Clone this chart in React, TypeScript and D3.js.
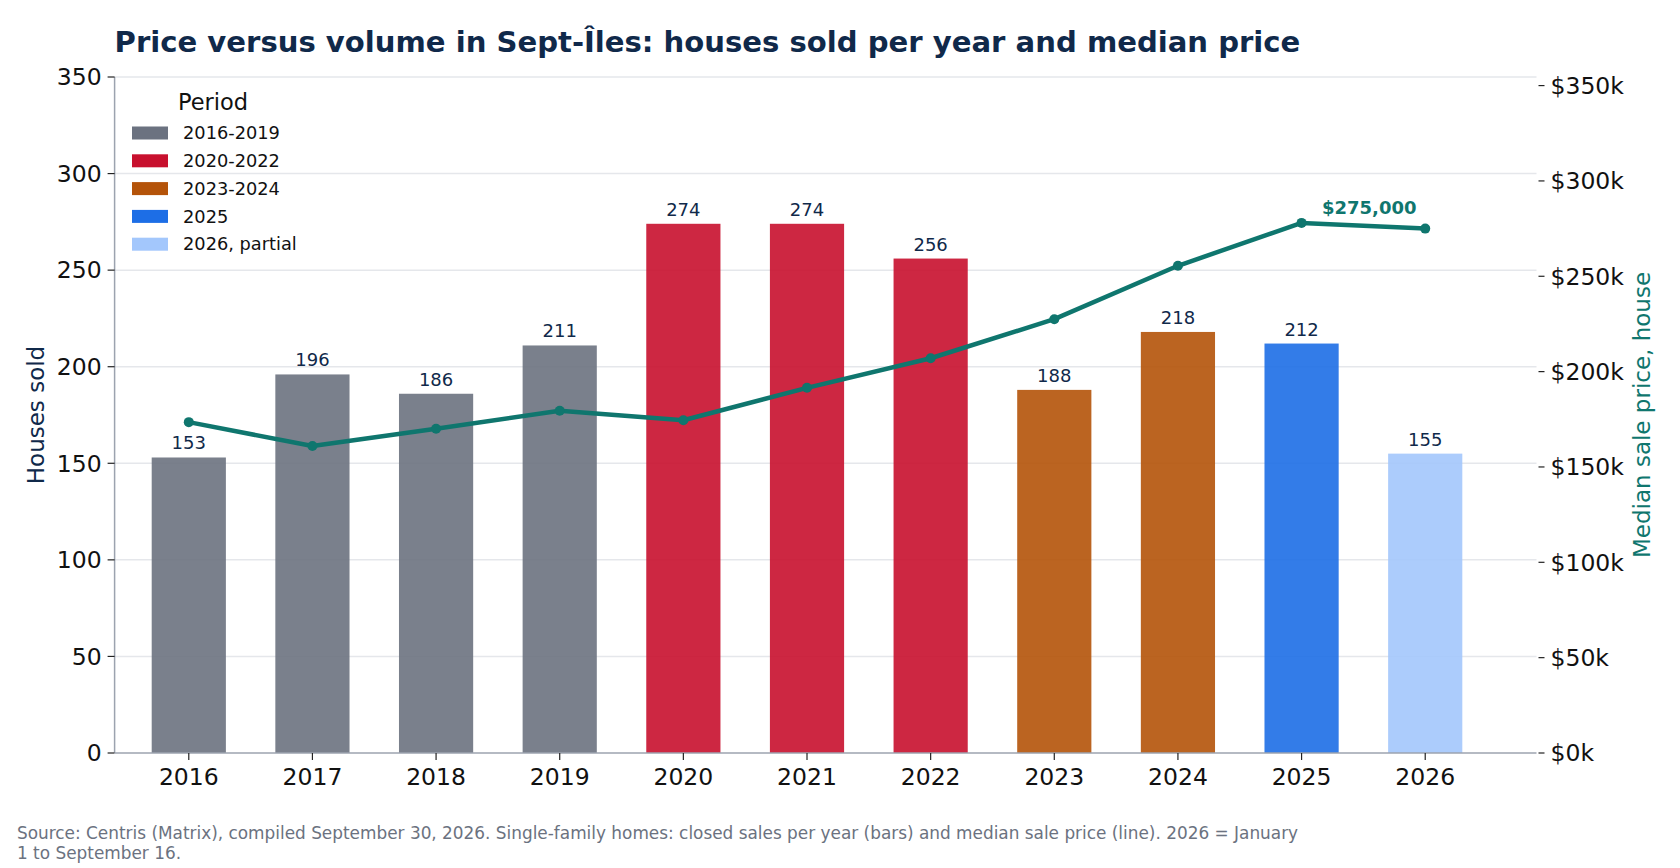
import React from 'react';
import * as d3 from 'd3';

const years = ['2016', '2017', '2018', '2019', '2020', '2021', '2022', '2023', '2024', '2025', '2026'];
const housesSold = [153, 196, 186, 211, 274, 274, 256, 188, 218, 212, 155];
const medianPrice = [173500, 161000, 170000, 179500, 174500, 191500, 207000, 227500, 255500, 278000, 275000];
const yearPeriod = [
  '2016-2019', '2016-2019', '2016-2019', '2016-2019',
  '2020-2022', '2020-2022', '2020-2022',
  '2023-2024', '2023-2024',
  '2025',
  '2026, partial',
];
const periods = ['2016-2019', '2020-2022', '2023-2024', '2025', '2026, partial'];
const periodColors = ['#6b7280', '#c8102e', '#b45309', '#1d6ee6', '#a3c7fc'];
const countTicks = [0, 50, 100, 150, 200, 250, 300, 350];
const priceTicks = [0, 50000, 100000, 150000, 200000, 250000, 300000, 350000];

const W = 1680;
const H = 868;
const FONT = '"DejaVu Sans", sans-serif';
const NAVY = '#10294a';
const TEAL = '#0f766e';

const m = { left: 114.6, right: 1536.5, top: 77, bottom: 753 };

export default function App() {
  const x = d3.scaleLinear().domain([-0.6, 10.9]).range([m.left, m.right]);
  const bandW = x(0.6) - x(0);
  const yL = d3.scaleLinear().domain([0, 350]).range([m.bottom, m.top]);
  const yR = d3.scaleLinear().domain([0, 354500]).range([m.bottom, m.top]);
  const color = d3.scaleOrdinal<string, string>().domain(periods).range(periodColors);

  const line = d3.line<number>()
    .x((_, i) => x(i))
    .y(d => yR(d));

  const last = medianPrice.length - 1;
  const fmtK = (v: number) => `$${v / 1000}k`;
  const fmtFull = d3.format('$,.0f');

  return (
    <svg width={W} height={H} style={{ position: 'absolute', left: 0, top: 0, background: '#fff' }} fontFamily={FONT}>
      <rect width={W} height={H} fill="#fff" />

      <text x={m.left} y={52} fontSize={29.1} fontWeight="bold" fill={NAVY}>
        Price versus volume in Sept-Îles: houses sold per year and median price
      </text>

      {/* grid */}
      {countTicks.filter(t => t > 0).map(t => (
        <line key={t} x1={m.left} x2={m.right} y1={yL(t)} y2={yL(t)} stroke="#e5e7eb" strokeWidth={1.5} />
      ))}

      {/* bars */}
      {housesSold.map((v, i) => (
        <g key={years[i]}>
          <rect
            x={x(i) - bandW / 2}
            y={yL(v)}
            width={bandW}
            height={yL(0) - yL(v)}
            fill={color(yearPeriod[i])}
            fillOpacity={0.9}
          />
          <text x={x(i)} y={yL(v) - 8} textAnchor="middle" fontSize={18} fill={NAVY}>{v}</text>
        </g>
      ))}

      {/* median price line */}
      <path d={line(medianPrice) || ''} fill="none" stroke={TEAL} strokeWidth={4.5} strokeLinejoin="round" />
      {medianPrice.map((v, i) => (
        <circle key={i} cx={x(i)} cy={yR(v)} r={5} fill={TEAL} />
      ))}
      <text x={x(last) - 56} y={yR(medianPrice[last]) - 15} textAnchor="middle" fontSize={18} fontWeight="bold" fill={TEAL}>
        {fmtFull(medianPrice[last])}
      </text>

      {/* left axis */}
      <line x1={m.left} x2={m.left} y1={m.top} y2={m.bottom} stroke="#9ca3af" strokeWidth={1.5} />
      {countTicks.map(t => (
        <g key={t} transform={`translate(${m.left},${yL(t)})`}>
          <line x1={-7} x2={0} stroke="#222" strokeWidth={1.2} />
          <text x={-13} dy="0.35em" textAnchor="end" fontSize={23.5} fill="#111">{t}</text>
        </g>
      ))}
      <text transform={`translate(44,${(m.top + m.bottom) / 2}) rotate(-90)`} textAnchor="middle" fontSize={23} fill={NAVY}>
        Houses sold
      </text>

      {/* right axis */}
      {priceTicks.map(t => (
        <g key={t} transform={`translate(${m.right},${yR(t)})`}>
          <line x1={2} x2={8} stroke="#222" strokeWidth={1.2} />
          <text x={14} dy="0.35em" textAnchor="start" fontSize={23.5} fill="#111">{fmtK(t)}</text>
        </g>
      ))}
      <text transform={`translate(1650,${(m.top + m.bottom) / 2}) rotate(-90)`} textAnchor="middle" fontSize={23} fill={TEAL}>
        Median sale price, house
      </text>

      {/* bottom axis */}
      <line x1={m.left} x2={m.right} y1={m.bottom} y2={m.bottom} stroke="#9ca3af" strokeWidth={1.5} />
      {years.map((yr, i) => (
        <g key={yr} transform={`translate(${x(i)},${m.bottom})`}>
          <line y1={0} y2={7} stroke="#222" strokeWidth={1.2} />
          <text y={32} textAnchor="middle" fontSize={23.5} fill="#111">{yr}</text>
        </g>
      ))}

      {/* legend */}
      <g transform="translate(132,0)">
        <text x={81} y={110} textAnchor="middle" fontSize={22.5} fill="#111">Period</text>
        {periods.map((p, i) => (
          <g key={p} transform={`translate(0,${133 + i * 27.8})`}>
            <rect x={0} y={-6.5} width={36} height={13} fill={periodColors[i]} />
            <text x={51} dy="0.35em" fontSize={17.8} fill="#111">{p}</text>
          </g>
        ))}
      </g>

      {/* footer */}
      <text x={17} y={839} fontSize={16.9} fill="#6b7280">
        Source: Centris (Matrix), compiled September 30, 2026. Single-family homes: closed sales per year (bars) and median sale price (line). 2026 = January
      </text>
      <text x={17} y={859} fontSize={16.9} fill="#6b7280">1 to September 16.</text>
    </svg>
  );
}
